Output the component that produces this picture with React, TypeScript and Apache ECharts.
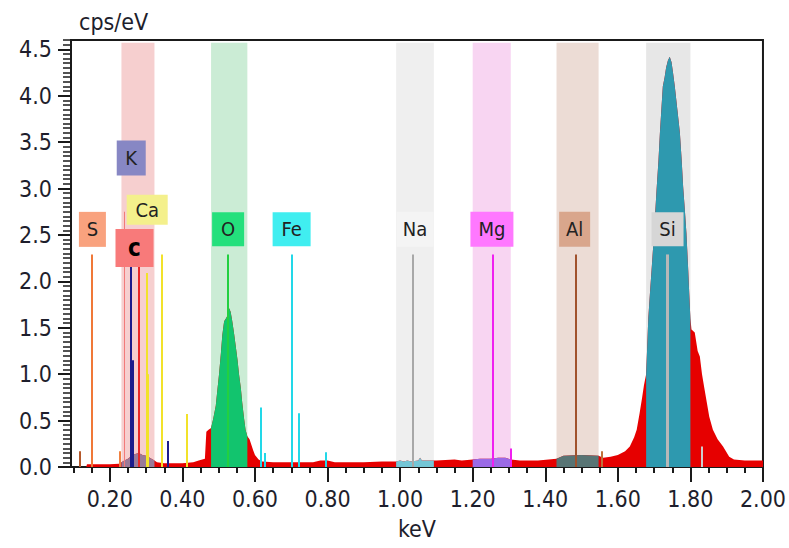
import React, { useEffect, useRef } from "react";
import * as echarts from "echarts";

// ---- spectrum (keV, cps/eV) ----
const spectrumKeV = [
  0.135, 0.137, 0.16, 0.2, 0.225, 0.232, 0.24, 0.25, 0.26, 0.27, 0.28, 0.29, 0.3, 0.31, 0.323,
  0.33, 0.35, 0.4, 0.43, 0.445, 0.462, 0.466, 0.472,
  0.479, 0.485, 0.492, 0.497, 0.501, 0.506, 0.51, 0.515, 0.52, 0.524, 0.529, 0.533, 0.537,
  0.542, 0.547, 0.552, 0.556, 0.561, 0.565, 0.57, 0.574, 0.579,
  0.585, 0.59, 0.595, 0.6, 0.61, 0.62, 0.65, 0.7, 0.76, 0.78, 0.8, 0.82, 0.9, 0.95,
  0.989, 1.0, 1.01, 1.02, 1.03, 1.05, 1.055, 1.06, 1.08, 1.093,
  1.1, 1.15, 1.17, 1.2, 1.22, 1.25, 1.27, 1.29, 1.305, 1.33, 1.38,
  1.431, 1.45, 1.5, 1.547, 1.56, 1.58, 1.6, 1.62, 1.633, 1.645, 1.652, 1.66, 1.667, 1.672,
  1.678, 1.681, 1.684, 1.689, 1.693, 1.697, 1.7, 1.704, 1.707, 1.712, 1.716, 1.72, 1.724,
  1.729, 1.733, 1.738, 1.743, 1.748, 1.752, 1.757, 1.764, 1.771, 1.776, 1.78, 1.785, 1.789,
  1.794, 1.797, 1.8,
  1.803, 1.812, 1.82, 1.826, 1.832, 1.838, 1.845, 1.852, 1.862, 1.875, 1.89, 1.907, 1.92, 1.95, 2.0,
];
const spectrumCps = [
  0, 0.03, 0.03, 0.03, 0.035, 0.05, 0.07, 0.09, 0.12, 0.14, 0.15, 0.13, 0.12, 0.1, 0.07,
  0.05, 0.04, 0.04, 0.05, 0.07, 0.09, 0.38, 0.4,
  0.42, 0.52, 0.66, 0.85, 1.0, 1.22, 1.42, 1.57, 1.6, 1.63, 1.71, 1.67, 1.58,
  1.45, 1.3, 1.15, 1.0, 0.85, 0.69, 0.52, 0.4, 0.33,
  0.3, 0.24, 0.18, 0.13, 0.08, 0.06, 0.05, 0.05, 0.05, 0.07, 0.07, 0.05, 0.05, 0.06,
  0.06, 0.07, 0.06, 0.07, 0.06, 0.07, 0.1, 0.07, 0.07, 0.07,
  0.07, 0.08, 0.07, 0.08, 0.09, 0.09, 0.1, 0.1, 0.08, 0.07, 0.07,
  0.09, 0.12, 0.13, 0.12, 0.1, 0.11, 0.13, 0.17, 0.22, 0.32, 0.4, 0.58, 0.75, 0.88,
  1.0, 1.3, 1.6, 1.9, 2.12, 2.35, 2.55, 2.8, 3.0, 3.3, 3.6, 3.85, 4.1,
  4.2, 4.3, 4.38, 4.42, 4.36, 4.25, 4.1, 3.85, 3.6, 3.3, 3.02, 2.75, 2.52,
  2.12, 1.85, 1.6,
  1.48, 1.45, 1.25, 1.19, 1.0, 0.86, 0.7, 0.54, 0.4, 0.3, 0.22, 0.11, 0.08, 0.07, 0.07,
];

// ---- element regions (keV) ----
const regionStart = [0.232, 0.479, 0.989, 1.2, 1.431, 1.678];
const regionEnd = [0.323, 0.579, 1.093, 1.305, 1.547, 1.8];
const regionBandColor = ["#f6cfcf", "#cbecd5", "#efefef", "#f8d5f2", "#ecdcd5", "#e7e7e7"];
const regionFillColor = ["#9a7a98", "#12c46e", "#74c6d6", "#9b6ae6", "#587474", "#2e99af"];

// ---- element marker lines ----
const lineKeV = [
  0.118, 0.151, 0.227, 0.241, 0.258, 0.263, 0.279, 0.301, 0.303, 0.343, 0.361, 0.413,
  0.526, 0.617, 0.628, 0.701, 0.72, 0.795, 1.036, 1.255, 1.305, 1.485, 1.556, 1.735, 1.832,
];
const lineCps = [
  0.17, 2.29, 0.17, 2.75, 2.2, 1.15, 2.2, 2.09, 1.0, 2.29, 0.28, 0.57,
  2.29, 0.64, 0.15, 2.29, 0.58, 0.16, 2.29, 2.29, 0.2, 2.29, 0.17, 2.29, 0.22,
];
const lineColor = [
  "#b4582a", "#f07838", "#f08040", "#f27a7a", "#1c1c8c", "#1c1c8c", "#e82828", "#f2e22a",
  "#f2e22a", "#f2e22a", "#1c1c8c", "#f2e22a", "#22d040", "#22d8e8", "#22d8e8", "#22d8e8",
  "#22d8e8", "#22d8e8", "#a8a8a8", "#f020f0", "#f020f0", "#a0522d", "#c0703a", "#b8b8b8", "#cccccc",
];
const lineWidth = [2, 2, 2, 1, 2, 3, 2, 2, 3, 2, 2, 2, 2, 2, 2, 2, 2, 2, 2, 2, 2, 2, 2, 3, 2];

// ---- element label boxes ----
const labelNames = ["S", "K", "Ca", "c", "O", "Fe", "Na", "Mg", "Al", "Si"];
const labelKeV = [0.152, 0.259, 0.303, 0.268, 0.526, 0.701, 1.041, 1.253, 1.481, 1.737];
const labelCps = [2.56, 3.33, 2.77, 2.36, 2.56, 2.56, 2.56, 2.56, 2.56, 2.56];
const labelBox = [
  [27, 35], [29, 35], [41, 30], [38, 38], [32, 34], [38, 34], [37, 35], [43, 35], [31, 35], [32, 34],
];
const labelColor = [
  "#f9a27e", "#8787c4", "#f4f08c", "#f87a7a", "#24e07c", "#40eef0", "#f4f4f4", "#ff78ff", "#d9a68c", "#d6d6d6",
];

// ---- axis ticks ----
const xMajorTicks = [0.2, 0.4, 0.6, 0.8, 1.0, 1.2, 1.4, 1.6, 1.8, 2.0];
const yMajorTicks = [0, 0.5, 1.0, 1.5, 2.0, 2.5, 3.0, 3.5, 4.0, 4.5];
const xMinorTicks: number[] = [];
for (let i = 2; i <= 40; i++) xMinorTicks.push(Math.round(i * 5) / 100);
const yMinorTicks: number[] = [];
for (let i = 0; i <= 92; i++) yMinorTicks.push(Math.round(i * 5) / 100);

const FONT = "'DejaVu Sans Condensed', 'Liberation Sans', sans-serif";
const TEXT = "#1e1e2c";
const X_MIN = 0.093;
const X_MAX = 2.0;
const Y_MAX = 4.6;

export default function App() {
  const ref = useRef<HTMLDivElement>(null);
  useEffect(() => {
    if (!ref.current) return;
    const chart = echarts.init(ref.current, null, { renderer: "svg" });

    const spectrum = spectrumKeV.map((x, i) => [x, spectrumCps[i]]);
    const regionSeries = regionStart.map((s, r) => ({
      type: "line",
      name: "region" + r,
      data: spectrum.filter((p) => p[0] >= s - 1e-9 && p[0] <= regionEnd[r] + 1e-9),
      showSymbol: false,
      symbol: "none",
      lineStyle: { width: 0, color: regionFillColor[r] },
      itemStyle: { color: regionFillColor[r] },
      areaStyle: { color: regionFillColor[r], opacity: 1 },
      z: 3,
      silent: true,
    }));

    const markLines = lineKeV.map((x, i) => [
      { coord: [x, 0], lineStyle: { color: lineColor[i], width: lineWidth[i], type: "solid" } },
      { coord: [x, lineCps[i]] },
    ]);

    const markPoints = labelNames.map((n, i) => ({
      name: n,
      coord: [labelKeV[i], labelCps[i]],
      symbol: "rect",
      symbolSize: labelBox[i],
      itemStyle: { color: labelColor[i] },
      label: {
        show: true,
        position: "inside",
        formatter: "{b}",
        color: n === "c" ? "#000" : "#222",
        fontSize: n === "c" ? 24 : 20,
        fontWeight: n === "c" ? "bold" : "normal",
        fontFamily: FONT,
      },
    }));

    const option: any = {
      animation: false,
      grid: {
        left: 71,
        right: 22,
        top: 40,
        bottom: 81,
        show: true,
        borderColor: "#1a1a1a",
        borderWidth: 2,
        backgroundColor: "#ffffff",
      },
      graphic: [
        {
          type: "text",
          left: 79,
          top: 10,
          style: { text: "cps/eV", font: `23px ${FONT}`, fill: TEXT },
        },
      ],
      xAxis: [
        {
          type: "value",
          min: X_MIN,
          max: X_MAX,
          position: "bottom",
          name: "keV",
          nameLocation: "middle",
          nameGap: 50,
          nameTextStyle: { fontSize: 23, color: TEXT, fontFamily: FONT },
          axisLine: { show: true, onZero: false, lineStyle: { color: "#1a1a1a", width: 2 } },
          axisTick: { show: true, length: 15, customValues: xMajorTicks, lineStyle: { color: "#1a1a1a", width: 2 } },
          axisLabel: {
            customValues: xMajorTicks,
            formatter: (v: number) => v.toFixed(2),
            margin: 20,
            fontSize: 23,
            color: TEXT,
            fontFamily: FONT,
          },
          splitLine: { show: false },
        },
        {
          type: "value",
          min: X_MIN,
          max: X_MAX,
          position: "bottom",
          axisLine: { show: false, onZero: false },
          axisTick: { show: true, length: 6, customValues: xMinorTicks, lineStyle: { color: "#1a1a1a", width: 2 } },
          axisLabel: { show: false },
          splitLine: { show: false },
        },
      ],
      yAxis: [
        {
          type: "value",
          min: 0,
          max: Y_MAX,
          position: "left",
          axisLine: { show: true, onZero: false, lineStyle: { color: "#1a1a1a", width: 2 } },
          axisTick: { show: true, length: 13, customValues: yMajorTicks, lineStyle: { color: "#1a1a1a", width: 2 } },
          axisLabel: {
            customValues: yMajorTicks,
            formatter: (v: number) => v.toFixed(1),
            margin: 19,
            fontSize: 23,
            color: TEXT,
            fontFamily: FONT,
          },
          splitLine: { show: false },
        },
        {
          type: "value",
          min: 0,
          max: Y_MAX,
          position: "left",
          axisLine: { show: false, onZero: false },
          axisTick: { show: true, length: 8, customValues: yMinorTicks, lineStyle: { color: "#1a1a1a", width: 1.5 } },
          axisLabel: { show: false },
          splitLine: { show: false },
        },
      ],
      series: [
        {
          type: "line",
          name: "spectrum",
          data: spectrum,
          showSymbol: false,
          symbol: "none",
          lineStyle: { width: 0, color: "#e60000" },
          itemStyle: { color: "#e60000" },
          areaStyle: { color: "#e60000", opacity: 1 },
          z: 2,
          silent: true,
          markArea: {
            silent: true,
            z: 1,
            data: regionStart.map((s, r) => [
              { xAxis: s, yAxis: 0, itemStyle: { color: regionBandColor[r] } },
              { xAxis: regionEnd[r], yAxis: 4.57 },
            ]),
          },
        },
        ...regionSeries,
        {
          type: "line",
          name: "markers",
          data: [],
          silent: true,
          markLine: {
            silent: true,
            symbol: ["none", "none"],
            label: { show: false },
            z: 5,
            data: markLines,
          },
        },
        {
          type: "line",
          name: "labels",
          data: [],
          silent: true,
          markPoint: {
            silent: true,
            z: 6,
            data: markPoints,
          },
        },
      ],
    };
    chart.setOption(option);
    return () => chart.dispose();
  }, []);
  return <div ref={ref} style={{ width: 789, height: 548, position: "absolute", left: 0, top: 0 }} />;
}
